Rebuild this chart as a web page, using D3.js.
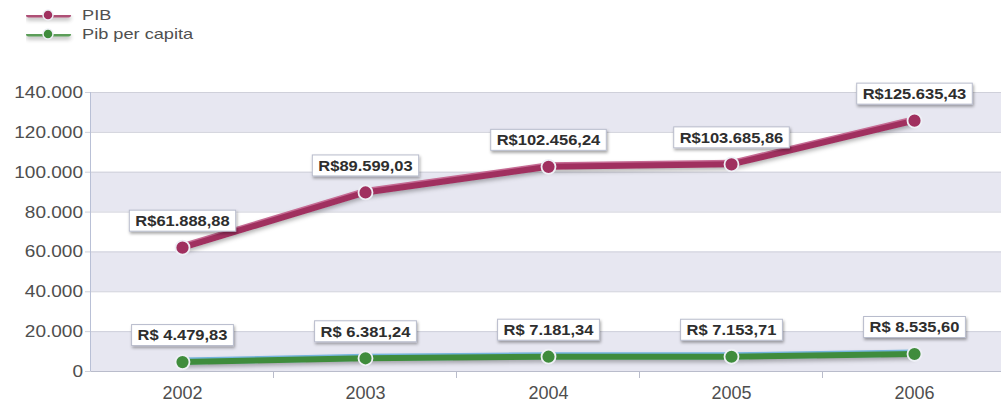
<!DOCTYPE html>
<html>
<head>
<meta charset="utf-8">
<style>
    body { margin: 0; background: #fff; }
    svg { display: block; font-family: 'Liberation Sans', Arial, sans-serif; }
    .tick-label { fill: #4e4e4e; font-size: 17px; }
    .year-label { fill: #4e4e4e; font-size: 18px; }
    .legend-text { fill: #505050; font-size: 14px; }
    .value-label { fill: #2e2e2e; font-size: 15px; font-weight: bold; }
</style>
</head>
<body>
<svg width="1001" height="403"></svg>

<script src="https://cdnjs.cloudflare.com/ajax/libs/d3/7.8.5/d3.min.js"></script>
<script>
    // values
    const years = ["2002", "2003", "2004", "2005", "2006"]
    const pib = [61888.88, 89599.03, 102456.24, 103685.86, 125635.43]
    const pibPerCapita = [4479.83, 6381.24, 7181.34, 7153.71, 8535.60]
    const seriesNames = ["PIB", "Pib per capita"]
    const yTicks = [0, 20000, 40000, 60000, 80000, 100000, 120000, 140000]

    const br = d3.formatLocale({ decimal: ",", thousands: ".", grouping: [3], currency: ["R$", ""] })
    const brSpace = d3.formatLocale({ decimal: ",", thousands: ".", grouping: [3], currency: ["R$ ", ""] })
    const fmtTick = br.format(",d")

    const series = [
        { name: seriesNames[0], values: pib, color: "#a0305f", edge: "#c56b93", fmt: br.format("$,.2f") },
        { name: seriesNames[1], values: pibPerCapita, color: "#3f8c3c", edge: "#74b4dc", fmt: brSpace.format("$,.2f") }
    ]

    const svg = d3.select("svg")

    const defs = svg.append("defs")
    const shadow = defs.append("filter").attr("id", "shadow")
        .attr("x", "-20%").attr("y", "-40%").attr("width", "140%").attr("height", "200%")
    shadow.append("feDropShadow").attr("dx", 1).attr("dy", 2).attr("stdDeviation", 1.6)
        .attr("flood-color", "#000").attr("flood-opacity", 0.35)
    const lineShadow = defs.append("filter").attr("id", "lineShadow")
        .attr("filterUnits", "userSpaceOnUse")
        .attr("x", 0).attr("y", 0).attr("width", 1001).attr("height", 403)
    lineShadow.append("feDropShadow").attr("dx", 0).attr("dy", 3).attr("stdDeviation", 2)
        .attr("flood-color", "#000").attr("flood-opacity", 0.3)

    const plotLeft = 91, plotRight = 1006, plotTop = 92, plotBottom = 371

    let x = d3.scaleBand().domain(years).range([plotLeft, plotRight])
    let y = d3.scaleLinear().domain([0, 140000]).range([plotBottom, plotTop])

    // alternating bands
    let bands = d3.pairs(yTicks).filter((d, i) => i % 2 == 0)
    svg.selectAll(".band")
        .data(bands)
        .join("rect")
        .attr("x", plotLeft)
        .attr("width", plotRight - plotLeft)
        .attr("y", d => y(d[1]))
        .attr("height", d => y(d[0]) - y(d[1]))
        .style("fill", "#e7e7f1")

    // grid lines + y labels
    svg.selectAll(".grid")
        .data(yTicks)
        .join("line")
        .attr("x1", plotLeft - 6)
        .attr("x2", plotRight)
        .attr("y1", d => y(d) + 0.5)
        .attr("y2", d => y(d) + 0.5)
        .style("stroke", "#cfd0da")
        .style("stroke-width", 1)

    svg.selectAll(".tick-label")
        .data(yTicks)
        .join("text")
        .attr("class", "tick-label")
        .attr("transform", d => `translate(83,${y(d)}) scale(1.12,1)`)
        .attr("dy", "0.35em")
        .attr("text-anchor", "end")
        .text(d => fmtTick(d))

    // axes
    svg.append("line")
        .attr("x1", plotLeft - 0.5).attr("x2", plotLeft - 0.5)
        .attr("y1", plotTop).attr("y2", plotBottom)
        .style("stroke", "#b9c0d6")
    svg.append("line")
        .attr("x1", plotLeft).attr("x2", plotRight)
        .attr("y1", plotBottom + 0.5).attr("y2", plotBottom + 0.5)
        .style("stroke", "#b9bccb")
    svg.selectAll(".xtick")
        .data(years.slice(1))
        .join("line")
        .attr("x1", d => x(d) - 0.5)
        .attr("x2", d => x(d) - 0.5)
        .attr("y1", plotBottom)
        .attr("y2", plotBottom + 7)
        .style("stroke", "#b9bccb")

    svg.selectAll(".year-label")
        .data(years)
        .join("text")
        .attr("class", "year-label")
        .attr("x", d => x(d) + x.bandwidth() / 2)
        .attr("y", 399)
        .attr("text-anchor", "middle")
        .text(d => d)

    let line = d3.line()
        .x((d, i) => x(years[i]) + x.bandwidth() / 2)
        .y(d => y(d))

    series.forEach(s => {
        let g = svg.append("g")
        g.append("path")
            .attr("d", line(s.values))
            .attr("transform", "translate(0,-1)")
            .style("fill", "none")
            .style("stroke", s.edge)
            .style("stroke-width", 7)
            .style("filter", "url(#lineShadow)")
        g.append("path")
            .attr("d", line(s.values))
            .style("fill", "none")
            .style("stroke", s.color)
            .style("stroke-width", 6)

        g.selectAll("circle")
            .data(s.values)
            .join("circle")
            .attr("cx", (d, i) => x(years[i]) + x.bandwidth() / 2)
            .attr("cy", d => y(d))
            .attr("r", 7)
            .style("fill", s.color)
            .style("stroke", "#eef0f6")
            .style("stroke-width", 1.8)

        // value labels
        let labels = g.selectAll(".lab")
            .data(s.values)
            .join("g")
            .attr("transform", (d, i) => `translate(${x(years[i]) + x.bandwidth() / 2},${y(d) - 27})`)

        labels.append("text")
            .attr("class", "value-label")
            .attr("text-anchor", "middle")
            .attr("transform", "scale(1.1,1)")
            .attr("dy", "0.36em")
            .text(d => s.fmt(d))

        labels.each(function () {
            let gg = d3.select(this)
            let w = gg.select("text").node().getComputedTextLength() * 1.1
            gg.insert("rect", "text")
                .attr("x", -w / 2 - 6)
                .attr("y", -10.5)
                .attr("width", w + 12)
                .attr("height", 21)
                .style("fill", "#fff")
                .style("stroke", "#b8bccc")
                .style("stroke-width", 1)
                .style("filter", "url(#shadow)")
        })
    })

    // legend
    let legend = svg.selectAll(".legend")
        .data(series)
        .join("g")
        .attr("transform", (d, i) => `translate(26,${15 + i * 19})`)

    legend.append("rect")
        .attr("x", 0).attr("y", -2.5)
        .attr("width", 45).attr("height", 5)
        .attr("rx", 2.5)
        .style("fill", d => d.color)
        .style("opacity", 0.85)
        .style("filter", "url(#lineShadow)")
    legend.append("circle")
        .attr("cx", 22).attr("cy", 0).attr("r", 5)
        .style("fill", d => d.color)
        .style("stroke", "#eef0f6")
        .style("stroke-width", 1.5)
    legend.append("text")
        .attr("class", "legend-text")
        .attr("transform", "translate(56,0) scale(1.3,1)")
        .attr("dy", "0.36em")
        .text(d => d.name)
</script>
</body>
</html>
